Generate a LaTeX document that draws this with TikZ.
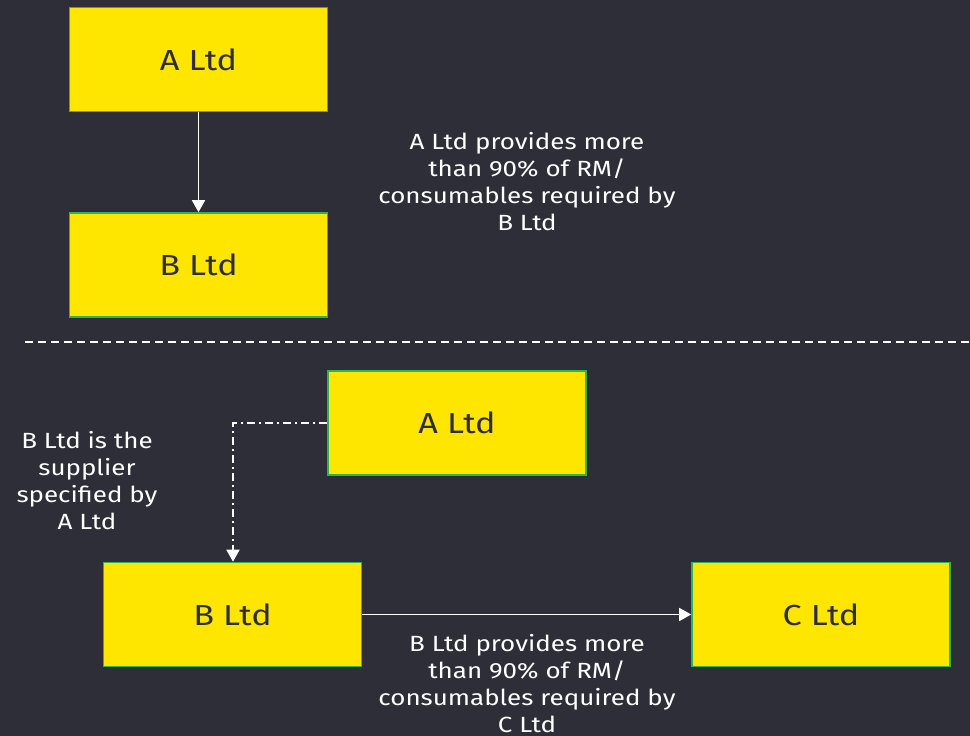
\documentclass[tikz,border=0pt]{standalone}
\usepackage{fontspec}
\setmainfont[FakeStretch=1.18]{Fira Sans}
\usetikzlibrary{arrows.meta}
\definecolor{bgdark}{HTML}{2E2E38}
\definecolor{boxyellow}{HTML}{FFE600}
\definecolor{boxedge}{RGB}{44,180,80}
\tikzset{
  entity/.style={draw=boxedge, line width=1.6pt, fill=boxyellow, text=bgdark,
    minimum width=258pt, minimum height=104pt, inner sep=0pt,
    font=\fontsize{29}{32}\selectfont},
  note/.style={text=white, align=center, inner sep=0pt,
    font=\fontsize{22}{27}\selectfont},
  flow/.style={draw=white, line width=1.6pt, -{Triangle[width=13pt,length=12pt]}},
  linkflow/.style={draw=white, line width=1.6pt, dash pattern=on 8pt off 4pt on 2pt off 4pt,
    -{Triangle[width=13pt,length=12pt]}},
  divider/.style={draw=white, line width=1.2pt, dash pattern=on 8pt off 5pt}
}
\begin{document}
\begin{tikzpicture}[x=1pt, y=-1pt]
  \fill[bgdark] (0,0) rectangle (970,736);
  \useasboundingbox (0,0) rectangle (970,736);

  % upper case: direct supply
  \node[entity] (a1) at (198.5,59.5) {A Ltd};
  \node[entity] (b1) at (198.5,265) {B Ltd};
  \draw[flow] (a1) -- (b1);
  \node[note] (n1) at (527,182) {A Ltd provides more\\than 90\% of RM/\\consumables required by\\B Ltd};

  % separator
  \coordinate (sepL) at (25,342);
  \coordinate (sepR) at (970,342);
  \draw[divider] (sepL) -- (sepR);

  % lower case: specified supplier
  \node[entity] (a2) at (457,423) {A Ltd};
  \node[entity] (b2) at (232.5,614.5) {B Ltd};
  \node[entity] (c2) at (821,614.5) {C Ltd};
  \draw[linkflow] (a2.west) -| (b2.north -| 233,0);
  \draw[flow] (b2) -- (c2);
  \node[note] (n2) at (87,481) {B Ltd is the\\supplier\\specified by\\A Ltd};
  \node[note] (n3) at (527,684) {B Ltd provides more\\than 90\% of RM/\\consumables required by\\C Ltd};
\end{tikzpicture}
\end{document}
